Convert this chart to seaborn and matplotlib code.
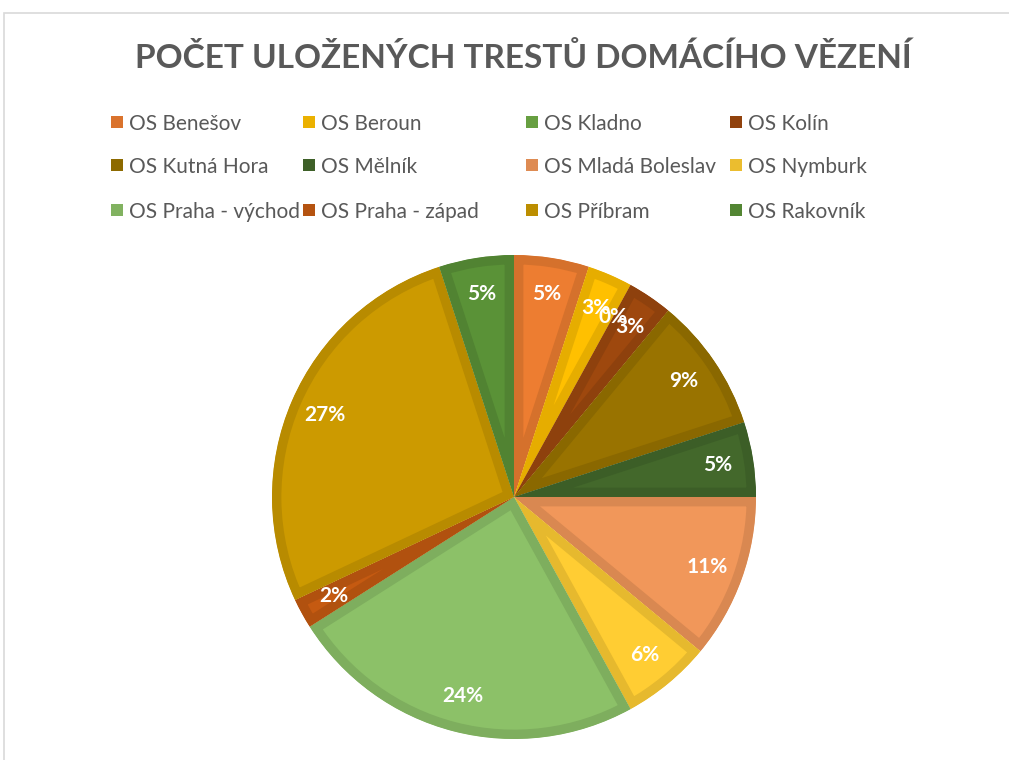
import matplotlib
matplotlib.use("Agg")
import matplotlib.pyplot as plt
import matplotlib.colors as mcolors
from matplotlib.patches import Rectangle
import seaborn as sns

courts = ["OS Benešov", "OS Beroun", "OS Kladno", "OS Kolín", "OS Kutná Hora", "OS Mělník",
          "OS Mladá Boleslav", "OS Nymburk", "OS Praha - východ", "OS Praha - západ",
          "OS Příbram", "OS Rakovník"]
shares = [5, 3, 0, 3, 9, 5, 11, 6, 24, 2, 27, 5]
colors = ["#ED7D31", "#FFC000", "#70AD47", "#9E480E", "#997300", "#43682B",
          "#F1975A", "#FFCD33", "#8CC168", "#C55A11", "#CC9A00", "#5A9237"]
title = "POČET ULOŽENÝCH TRESTŮ DOMÁCÍHO VĚZENÍ"

sns.set_theme(style="white")
plt.rcParams["font.family"] = ["Lato", "DejaVu Sans"]

W, H = 1009, 760
fig = plt.figure(figsize=(W / 100, H / 100), dpi=100)
fig.patch.set_facecolor("white")

def darker(c, f=0.9):
    r, g, b = mcolors.to_rgb(c)
    return (r * f, g * f, b * f)

# chart frame
fig.add_artist(Rectangle((4 / W, -0.1), 1.2, 1 - 13 / H + 0.1, transform=fig.transFigure,
                         fill=False, edgecolor="#D9D9D9", linewidth=1.2))

fig.text(523 / W, 1 - 58 / H, title, ha="center", va="center", fontsize=24,
         fontweight="bold", color="#595959")

cx, cy, R = 514, 497, 242
ax = fig.add_axes([(cx - R) / W, (H - cy - R) / H, 2 * R / W, 2 * R / H])
wedges, texts, autotexts = ax.pie(
    shares, colors=colors, startangle=90, counterclock=False,
    autopct="%.0f%%", pctdistance=0.85, radius=1,
    wedgeprops=dict(edgecolor="none", linewidth=0),
    textprops=dict(color="white", fontsize=15, fontweight="bold"))
for w, c in zip(wedges, colors):
    w.set_edgecolor(darker(c))
    w.set_linewidth(13.5)
    w.set_joinstyle("miter")
    w.set_clip_on(True)
    w.set_clip_path(w)
ax.set_xlim(-1, 1)
ax.set_ylim(-1, 1)
ax.set_aspect("equal")
ax.axis("off")

# legend: 4 columns x 3 rows, filled row by row
col_x = [111, 303, 526, 730]
row_y = [122, 165, 210]
sq = 12
for i, (name, c) in enumerate(zip(courts, colors)):
    x = col_x[i % 4]
    y = row_y[i // 4]
    fig.add_artist(Rectangle((x / W, (H - y - sq / 2) / H), sq / W, sq / H,
                             transform=fig.transFigure, facecolor=darker(c, 0.92),
                             edgecolor="none"))
    fig.text((x + sq + 6) / W, 1 - y / H, name, ha="left", va="center_baseline",
             fontsize=15, color="#595959")

fig.savefig("out.png", dpi=100)
